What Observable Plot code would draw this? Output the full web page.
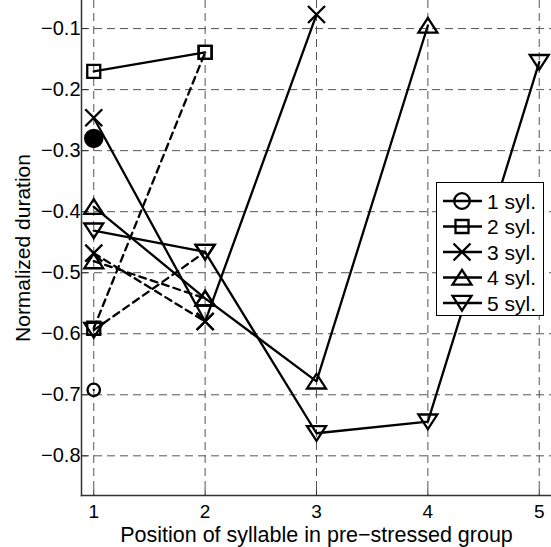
<!DOCTYPE html>
<html><head><meta charset="utf-8">
<script src="https://cdn.jsdelivr.net/npm/d3@7"></script>
<script src="https://cdn.jsdelivr.net/npm/@observablehq/plot@0.6"></script>
<style>
body{margin:0;background:#fff;font-family:"Liberation Sans",Arial,Helvetica,sans-serif}
#wrap{position:relative;width:551px;height:547px}
#legend{position:absolute;left:436px;top:182px}
</style></head><body><div id="wrap"></div>
<script>
// ---- data ----
const xTicks = [1, 2, 3, 4, 5];
const xTickLabels = ["1", "2", "3", "4", "5"];
const yTicks = [-0.8, -0.7, -0.6, -0.5, -0.4, -0.3, -0.2, -0.1];
const yTickLabels = ["−0.8", "−0.7", "−0.6", "−0.5", "−0.4", "−0.3", "−0.2", "−0.1"];
const seriesNames = ["1 syl.", "2 syl.", "3 syl.", "4 syl.", "5 syl."];
// solid series: values at positions 1..n
const solid1 = [-0.692];
const solid2 = [-0.170, -0.139];
const solid3 = [-0.246, -0.580, -0.077];
const solid4 = [-0.392, -0.542, -0.678, -0.095];
const solid5 = [-0.431, -0.466, -0.763, -0.744, -0.155];
// dashed series: values at positions 1..2
const dashed2 = [-0.591, -0.139];
const dashed3 = [-0.468, -0.580];
const dashed4 = [-0.481, -0.542];
const dashed5 = [-0.594, -0.466];
// single filled marker (1 syl., other condition)
const filled1 = [-0.280];
const xLabel = "Position of syllable in pre−stressed group";
const yLabel = "Normalized duration";

// ---- symbols ----
const rOf = size => Math.sqrt(size / Math.PI);
const symSquare = {draw(c, size){const s = rOf(size); c.rect(-s, -s, 2*s, 2*s);}};
const symTimes = {draw(c, size){const s = rOf(size); c.moveTo(-s,-s); c.lineTo(s,s); c.moveTo(s,-s); c.lineTo(-s,s);}};
const symTriUp = {draw(c, size){const s = rOf(size); c.moveTo(0,-0.8*s); c.lineTo(s,0.75*s); c.lineTo(-s,0.75*s); c.closePath();}};
const symTriDown = {draw(c, size){const s = rOf(size); c.moveTo(0,0.8*s); c.lineTo(s,-0.75*s); c.lineTo(-s,-0.75*s); c.closePath();}};
const symCircle = {draw(c, size){const s = rOf(size); c.moveTo(s,0); c.arc(0,0,s,0,2*Math.PI);}};

const symbols = [symCircle, symSquare, symTimes, symTriUp, symTriDown];
const plotR = [6.2, 6.5, 8.5, 9.5, 9.5];
const legendR = [7.8, 6.5, 8.5, 9.5, 9.5];

const toRows = (vals, series) => vals.map((v, i) => ({series, pos: i + 1, value: v}));
const solids = [solid1, solid2, solid3, solid4, solid5];
const dasheds = [null, dashed2, dashed3, dashed4, dashed5];
const solidRows = solids.flatMap((v, i) => toRows(v, seriesNames[i]));
const dashedRows = dasheds.flatMap((v, i) => v ? toRows(v, seriesNames[i]) : []);
const filledRows = toRows(filled1, seriesNames[0]);

const tickShape = {draw(c, l){c.moveTo(0,0); c.lineTo(0,-l);}};
const LW = 2.3;

const dotMarks = seriesNames.map((name, i) => Plot.dot(
  solidRows.concat(dashedRows).filter(d => d.series === name),
  {x: "pos", y: "value", symbol: symbols[i], r: plotR[i], fill: "none", stroke: "black", strokeWidth: LW}
));

const chart = Plot.plot({
  width: 551, height: 547,
  marginLeft: 81, marginRight: 0, marginTop: 0, marginBottom: 52,
  style: {fontFamily: "Liberation Sans, Arial, sans-serif", fontSize: "20px", color: "black", background: "white"},
  x: {domain: [0.89, 5.11]},
  y: {domain: [-0.865, -0.054]},
  marks: [
    Plot.gridX(xTicks, {stroke: "#555", strokeOpacity: 1, strokeDasharray: "8,5"}),
    Plot.gridY(yTicks, {stroke: "#555", strokeOpacity: 1, strokeDasharray: "8,5"}),
    Plot.frame({anchor: "left", stroke: "#333", strokeWidth: 1.5}),
    Plot.frame({anchor: "bottom", stroke: "#333", strokeWidth: 1.5}),
    Plot.vector(yTicks, {y: d => d, frameAnchor: "left", length: 6, rotate: 90, anchor: "start", shape: tickShape, stroke: "#333", strokeWidth: 1}),
    Plot.vector(xTicks, {x: d => d, frameAnchor: "bottom", length: 6, rotate: 0, anchor: "start", shape: tickShape, stroke: "#333", strokeWidth: 1}),
    Plot.axisY(yTicks, {tickSize: 0, tickPadding: 1, label: null, tickFormat: d => yTickLabels[yTicks.indexOf(d)], fontSize: 20}),
    Plot.axisX(xTicks, {tickSize: 0, tickPadding: 9, label: null, tickFormat: d => xTickLabels[xTicks.indexOf(d)], fontSize: 19}),
    Plot.text([xLabel], {text: d => d, frameAnchor: "bottom", dy: 31.5, lineAnchor: "top", textAnchor: "middle", fontSize: 21.5, fill: "black"}),
    Plot.text([yLabel], {text: d => d, frameAnchor: "left", dx: -58, dy: 0, rotate: -90, lineAnchor: "middle", textAnchor: "middle", fontSize: 21, fill: "black"}),
    Plot.line(solidRows, {x: "pos", y: "value", z: "series", stroke: "black", strokeWidth: LW}),
    Plot.line(dashedRows, {x: "pos", y: "value", z: "series", stroke: "black", strokeWidth: LW, strokeDasharray: "7,5"}),
    ...dotMarks,
    Plot.dot(filledRows, {x: "pos", y: "value", r: 9, fill: "black", stroke: "black"})
  ]
});
const wrap = document.getElementById("wrap");
wrap.appendChild(chart);

// ---- legend ----
const lw = 108, lh = 134, rowH = 25.5, row0 = 19;
const leg = d3.select(wrap).append("svg").attr("id", "legend").attr("width", lw).attr("height", lh)
  .style("font-family", "Liberation Sans, Arial, sans-serif").style("font-size", "21px");
leg.append("rect").attr("x", 0.5).attr("y", 0.5).attr("width", lw - 1).attr("height", lh - 1)
  .attr("fill", "white").attr("stroke", "black").attr("stroke-width", 1);
seriesNames.forEach((name, i) => {
  const y = row0 + rowH * i;
  const g = leg.append("g");
  g.append("line").attr("x1", 7).attr("x2", 46).attr("y1", y).attr("y2", y).attr("stroke", "black").attr("stroke-width", LW);
  g.append("path").attr("transform", `translate(26,${y})`)
    .attr("d", d3.symbol().type(symbols[i]).size(legendR[i] * legendR[i] * Math.PI)())
    .attr("fill", "none").attr("stroke", "black").attr("stroke-width", LW);
  g.append("text").attr("x", 51).attr("y", y).attr("dy", "0.36em").text(name);
});
</script></body></html>
